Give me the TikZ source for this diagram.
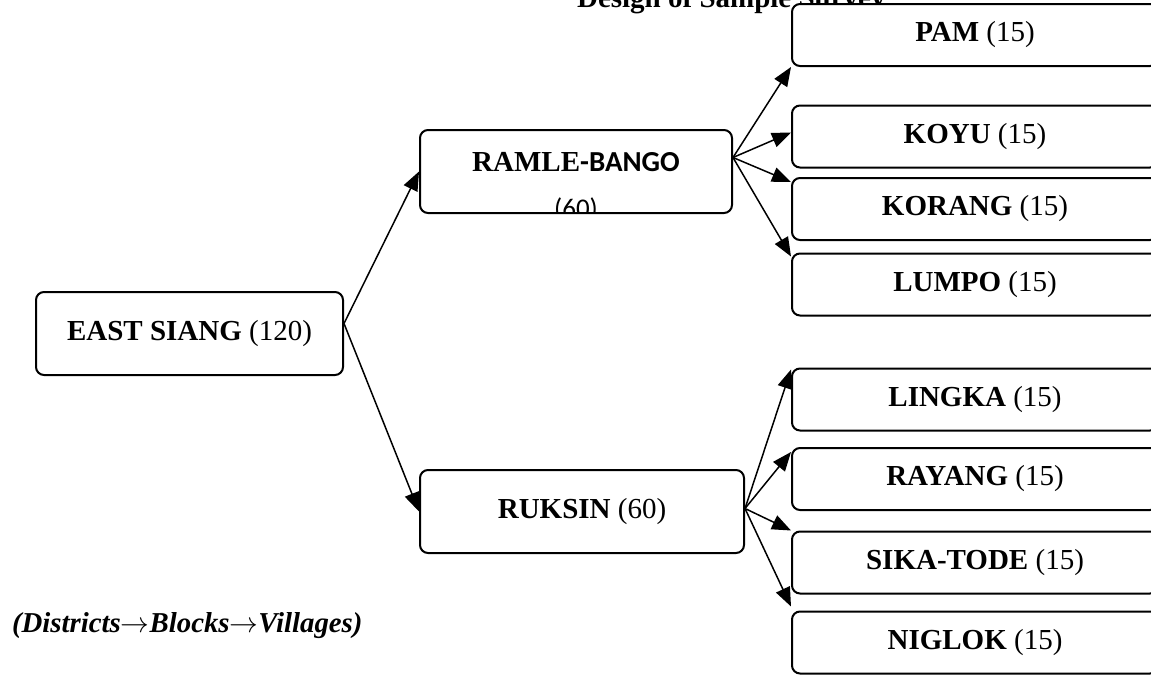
\documentclass[tikz,border=0pt]{standalone}
\usepackage{fontspec}
\setmainfont{Liberation Serif}
\newfontfamily\calibri{Carlito}
\usetikzlibrary{arrows.meta,positioning}
\tikzset{>/.tip={Triangle[length=9.5pt,width=7.5pt]}}
\tikzset{box/.style={draw,line width=1pt,rounded corners=4pt,fill=white,inner sep=0pt,minimum height=41.5pt}}
\tikzset{vill/.style={box,minimum width=183pt,minimum height=31pt}}
\tikzset{link/.style={->,line width=0.75pt}}

\begin{document}
\begin{tikzpicture}[x=0.5pt,y=-0.5pt,font=\fontsize{14.5}{17}\selectfont]
        \useasboundingbox (0,0) rectangle (1151,675);
        \clip (0,0) rectangle (1151,675);
        \node(title)[anchor=base west,font=\fontsize{14.5}{17}\selectfont\bfseries] at (570,7) {Design of Sample Survey};
        \node(east)[box,minimum width=153.5pt] at (189.5,333.5) {\textbf{EAST SIANG} (120)};
        \node(ramle)[box,minimum width=156pt,text depth=9.5pt,
          path picture={\node[anchor=base,font=\calibri\fontsize{13.5}{16}\selectfont] at ([yshift=-2pt]path picture bounding box.south) {(60)};}]
          at (576,171.5) {\textbf{RAMLE}{\calibri\bfseries -BANGO}};
        \node(ruksin)[box,minimum width=162pt] at (582,511.5) {\textbf{RUKSIN} (60)};
        \node(pam)[vill] at (975,35) {\textbf{PAM} (15)};
        \node(koyu)[vill] at (975,136.5) {\textbf{KOYU} (15)};
        \node(korang)[vill] at (975,209) {\textbf{KORANG} (15)};
        \node(lumpo)[vill] at (975,284.5) {\textbf{LUMPO} (15)};
        \node(lingka)[vill] at (975,399.5) {\textbf{LINGKA} (15)};
        \node(rayang)[vill] at (975,479) {\textbf{RAYANG} (15)};
        \node(sika)[vill] at (975,562.5) {\textbf{SIKA-TODE} (15)};
        \node(niglok)[vill] at (975,642.5) {\textbf{NIGLOK} (15)};
        \node(levels)[anchor=base west,font=\fontsize{14.4}{17}\selectfont\bfseries\itshape] at (5,632) {(Districts$\rightarrow$Blocks$\rightarrow$Villages)};
        \coordinate(es) at ([yshift=5pt]east.east);
        \coordinate(rs) at ([yshift=7pt]ramle.east);
        \coordinate(ks) at ([yshift=1.5pt]ruksin.east);
        \draw[link] (es) -- (ramle.west);
        \draw[link] (es) -- (ruksin.west);
        \draw[link] (rs) -- (pam.south west);
        \draw[link] (rs) -- ([yshift=2pt]koyu.west);
        \draw[link] (rs) -- ([yshift=-2.5pt]korang.north west);
        \draw[link] (rs) -- ([yshift=-2pt]lumpo.north west);
        \draw[link] (ks) -- ([yshift=-1pt]lingka.north west);
        \draw[link] (ks) -- ([yshift=-2.5pt]rayang.north west);
        \draw[link] (ks) -- (sika.north west);
        \draw[link] (ks) -- ([yshift=2pt]niglok.north west);
      \end{tikzpicture}
\end{document}
